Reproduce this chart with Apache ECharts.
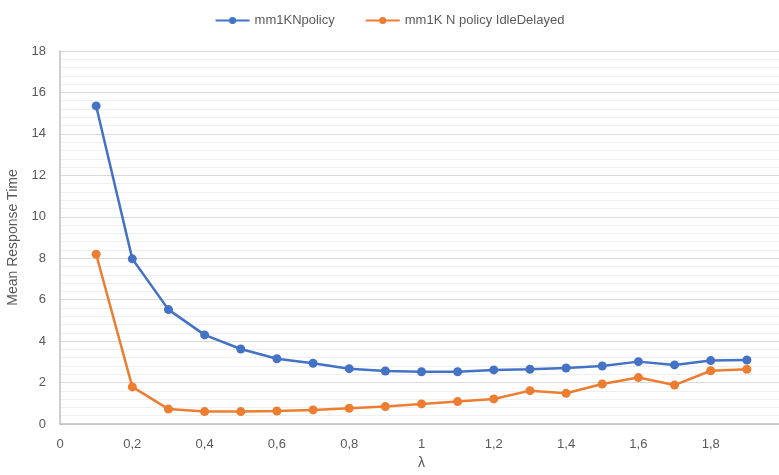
<!DOCTYPE html>
<html>
<head>
<meta charset="utf-8">
<script src="https://cdn.jsdelivr.net/npm/echarts@6/dist/echarts.min.js"></script>
<style>html,body{margin:0;padding:0;background:#fff}#c{width:779px;height:475px}</style>
</head>
<body>
<div id="c"></div>
<script>
const lambdas = [0.1,0.2,0.3,0.4,0.5,0.6,0.7,0.8,0.9,1.0,1.1,1.2,1.3,1.4,1.5,1.6,1.7,1.8,1.9];
const policyValues = [15.35,7.97,5.52,4.30,3.62,3.15,2.93,2.67,2.56,2.52,2.52,2.61,2.64,2.70,2.80,3.01,2.85,3.06,3.09];
const idleDelayedValues = [8.19,1.79,0.72,0.60,0.60,0.63,0.68,0.76,0.84,0.97,1.08,1.21,1.61,1.48,1.93,2.24,1.88,2.57,2.64];
const seriesNames = ['mm1KNpolicy','mm1K N policy IdleDelayed'];

const chart = echarts.init(document.getElementById('c'));
const font = 'Liberation Sans, Arial, sans-serif';
chart.setOption({
  animation: false,
  color: ['#4472C4','#ED7D31'],
  textStyle: {fontFamily: font},
  legend: {
    top: 9, left: 'center', itemWidth: 34, itemHeight: 9, itemGap: 30,
    textStyle: {color: '#595959', fontSize: 13, fontFamily: font}
  },
  grid: {left: 60, top: 51, bottom: 51, right: -4, containLabel: false, outerBoundsMode: 'none'},
  xAxis: {
    type: 'value', min: 0, max: 2, interval: 0.2,
    name: 'λ', nameLocation: 'middle', nameGap: 32,
    nameTextStyle: {color: '#595959', fontSize: 14, fontFamily: font},
    axisLine: {lineStyle: {color: '#bfbfbf', width: 1.5}},
    axisTick: {show: false},
    splitLine: {show: false},
    axisLabel: {color: '#595959', fontSize: 13, margin: 14, showMaxLabel: false,
      formatter: v => (Math.round(v*10)/10).toString().replace('.', ',')}
  },
  yAxis: {
    type: 'value', min: 0, max: 18, interval: 2,
    name: 'Mean Response Time', nameLocation: 'middle', nameGap: 30,
    nameTextStyle: {color: '#595959', fontSize: 14, fontFamily: font},
    axisLine: {show: true, lineStyle: {color: '#bfbfbf', width: 1.5}},
    axisTick: {show: false},
    axisLabel: {color: '#595959', fontSize: 13, margin: 14},
    splitLine: {lineStyle: {color: '#d9d9d9', width: 1}},
    minorTick: {show: false, splitNumber: 5},
    minorSplitLine: {show: true, lineStyle: {color: '#efefef', width: 1}}
  },
  series: [
    {name: seriesNames[0], type: 'line', data: lambdas.map((x,i)=>[x, policyValues[i]]),
     symbol: 'circle', symbolSize: 9, lineStyle: {width: 2.5}},
    {name: seriesNames[1], type: 'line', data: lambdas.map((x,i)=>[x, idleDelayedValues[i]]),
     symbol: 'circle', symbolSize: 9, lineStyle: {width: 2.5}}
  ]
});
</script>
</body>
</html>
